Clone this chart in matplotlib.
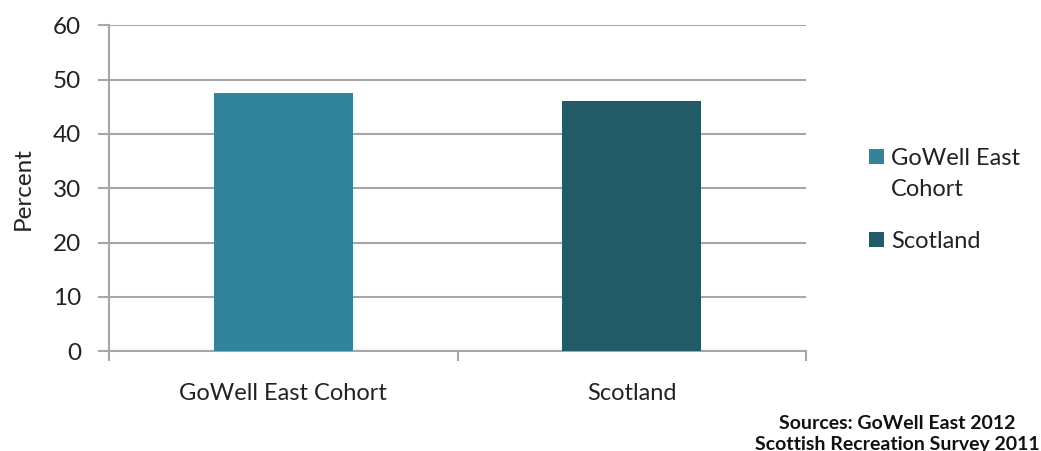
import matplotlib
matplotlib.use("Agg")
import matplotlib.pyplot as plt
from matplotlib.patches import Rectangle

# data
categories = ["GoWell East Cohort", "Scotland"]
values = [47.5, 46.0]
legend_labels = ["GoWell East\nCohort", "Scotland"]
colors = ["#31849B", "#235A68"]
y_ticks = [0, 10, 20, 30, 40, 50, 60]
sources = "Sources: GoWell East 2012\nScottish Recreation Survey 2011"

plt.rcParams["font.family"] = ["Lato", "DejaVu Sans"]

W, H = 1041, 451
fig = plt.figure(figsize=(W / 100, H / 100), dpi=100)
ax = fig.add_axes([0.1047, 0.221, 0.6696, 0.723])

x = list(range(len(categories)))
ax.bar(x, values, width=0.4, color=colors, zorder=3)

ax.set_xlim(-0.5, len(categories) - 0.5)
ax.set_ylim(0, 60)
ax.set_yticks(y_ticks)
ax.set_xticks(x)
ax.set_xticklabels(categories)
# category boundary ticks like the spreadsheet axis
ax.set_xticks([-0.5, 0.5, 1.5], minor=True)
ax.tick_params(axis="x", which="major", length=0, pad=23, labelsize=17, labelcolor="#222222")
ax.tick_params(axis="x", which="minor", length=7, width=1.5, color="#A6A6A6")
ax.tick_params(axis="y", length=8, width=1.5, color="#A6A6A6", labelsize=17.5,
               labelcolor="#222222", pad=12)

ax.yaxis.grid(True, color="#A6A6A6", linewidth=1.5, zorder=0)
for side in ["top", "right"]:
    ax.spines[side].set_visible(False)
ax.spines["left"].set_color("#A6A6A6")
ax.spines["left"].set_linewidth(1.5)
ax.spines["bottom"].set_color("#A6A6A6")
ax.spines["bottom"].set_linewidth(1.5)

ax.set_ylabel("Percent", fontsize=17.5, color="#222222", labelpad=14)

# legend drawn by hand so the swatch lines up with the first text line
entry_tops = [149, 232]  # pixel rows of the swatch tops
for lab, c, top in zip(legend_labels, colors, entry_tops):
    fig.patches.append(Rectangle((869 / W, 1 - (top + 15) / H), 15 / W, 15 / H,
                                 transform=fig.transFigure, facecolor=c,
                                 edgecolor="none"))
    fig.text(891 / W, 1 - (top + 7.5) / H, lab.split("\n")[0], ha="left",
             va="center_baseline", fontsize=17, color="#222222")
    for k, extra in enumerate(lab.split("\n")[1:], start=1):
        fig.text(891 / W, 1 - (top + 7.5 + 31 * k) / H, extra, ha="left",
                 va="center_baseline", fontsize=17, color="#222222")

fig.text(0.862, 0.038, sources, ha="center", va="center", fontsize=14,
         fontweight="bold", color="#111111", linespacing=1.3)

fig.savefig("out.png", dpi=100)
